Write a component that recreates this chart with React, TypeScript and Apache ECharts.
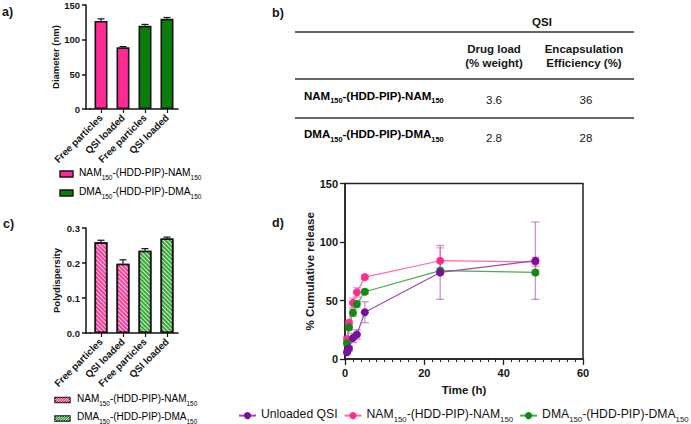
import React, { useEffect, useRef } from 'react';
import * as echarts from 'echarts';

// ---------- data ----------
const barCategories = ['Free particles', 'QSI loaded', 'Free particles', 'QSI loaded'];
const barPolymer = ['NAM', 'NAM', 'DMA', 'DMA'];
const diameterValues = [127, 89, 120, 130];
const diameterErrors = [3, 1, 2, 2];
const pdiValues = [0.259, 0.198, 0.235, 0.27];
const pdiErrors = [0.006, 0.011, 0.006, 0.004];

const diameterTicks = { min: 0, max: 150, interval: 50 };
const pdiTicks = { min: 0, max: 0.3, interval: 0.1 };

const tablePolymers = ['NAM', 'DMA'];
const tableDrugLoad = [3.6, 2.8];
const tableEncapsulation = [36, 28];

const releaseTimes = [0.5, 1, 2, 3, 5, 24, 48];
const unloadedRelease = [5.7, 9, 18, 21, 40, 74, 84];
const unloadedErr = [1.5, 2, 4, 4, 9, 23, 33];
const namRelease = [17, 31, 48, 57, 70, 84, 83];
const namErr = [2, 2, 4, 4, 2, 11, 4];
const dmaRelease = [13.5, 27, 39.5, 47, 57.5, 75.5, 74];
const dmaErr = [2, 2, 3, 3, 2, 2, 2];

const releaseSeriesNames = ['Unloaded QSI', 'NAM150-(HDD-PIP)-NAM150', 'DMA150-(HDD-PIP)-DMA150'];

// ---------- styles ----------
const FONT = '"Liberation Sans", Arial, Helvetica, sans-serif';
const INK = '#151515';
const PINK = '#FF2A92';
const GREEN = '#0A7E0A';
const PINK_H = '#FF3D9A';
const GREEN_H = '#3BAA3B';
const PURPLE = '#7A0F9C';
const PINK_D = '#FF2D8E';
const GREEN_D = '#138A13';

const polymerName = (p: string) => `${p}150-(HDD-PIP)-${p}150`;
const richName = (name: string) =>
  name
    .split('150')
    .map((part, i, arr) => (part ? `{n|${part}}` : '') + (i < arr.length - 1 ? '{s|150}' : ''))
    .join('');

const richStyles = (size: number, bold: boolean) => ({
  n: { fontSize: size, fontWeight: bold ? 'bold' : 'normal', fontFamily: FONT, color: INK, lineHeight: size + 3, verticalAlign: 'top' as const },
  s: { fontSize: Math.round(size * 0.64 * 10) / 10, fontWeight: bold ? 'bold' : 'normal', fontFamily: FONT, color: INK, lineHeight: 1, verticalAlign: 'bottom' as const },
});

const barErrorRender = (color: string) => (params: any, api: any) => {
  const x = api.value(0);
  const v = api.value(1);
  const e = api.value(2);
  const base = api.coord([x, v]);
  const top = api.coord([x, v + e]);
  return {
    type: 'group',
    children: [
      { type: 'line', shape: { x1: base[0], y1: base[1], x2: top[0], y2: top[1] }, style: { stroke: color, lineWidth: 1.2 } },
      { type: 'line', shape: { x1: top[0] - 3.5, y1: top[1], x2: top[0] + 3.5, y2: top[1] }, style: { stroke: color, lineWidth: 1.2 } },
    ],
  };
};

const fullErrorRender = (color: string) => (params: any, api: any) => {
  const x = api.value(0);
  const v = api.value(1);
  const e = api.value(2);
  const lo = api.coord([x, v - e]);
  const hi = api.coord([x, v + e]);
  return {
    type: 'group',
    children: [
      { type: 'line', shape: { x1: lo[0], y1: lo[1], x2: hi[0], y2: hi[1] }, style: { stroke: color, lineWidth: 1.3 } },
      { type: 'line', shape: { x1: hi[0] - 4, y1: hi[1], x2: hi[0] + 4, y2: hi[1] }, style: { stroke: color, lineWidth: 1.3 } },
      { type: 'line', shape: { x1: lo[0] - 4, y1: lo[1], x2: lo[0] + 4, y2: lo[1] }, style: { stroke: color, lineWidth: 1.3 } },
    ],
  };
};

const hatchDecal = {
  symbol: 'rect',
  symbolSize: 1,
  dashArrayX: [1, 0],
  dashArrayY: [1, 2],
  rotation: Math.PI / 4,
  color: 'rgba(255,255,255,0.75)',
};

function smallAxisY(name: string, ticks: { min: number; max: number; interval: number }, gridIndex: number, digits: number) {
  return {
    type: 'value',
    gridIndex,
    min: ticks.min,
    max: ticks.max,
    interval: ticks.interval,
    offset: 4,
    name,
    nameLocation: 'middle',
    nameGap: 25,
    nameTextStyle: { fontFamily: FONT, fontWeight: 'bold', fontSize: 9.5, color: INK },
    axisLine: { show: true, lineStyle: { color: INK, width: 1.5 } },
    axisTick: { show: true, length: 4, lineStyle: { color: INK, width: 1.5 } },
    axisLabel: { fontFamily: FONT, fontWeight: 'bold', fontSize: 9.5, color: INK, margin: 6, formatter: (v: number) => v.toFixed(digits) },
    splitLine: { show: false },
  };
}

function smallAxisX(gridIndex: number) {
  return {
    type: 'category',
    gridIndex,
    data: barCategories,
    axisLine: { show: true, lineStyle: { color: INK, width: 1.5 } },
    axisTick: { show: true, alignWithLabel: true, length: 4, lineStyle: { color: INK, width: 1.2 } },
    axisLabel: { rotate: 45, interval: 0, fontFamily: FONT, fontWeight: 'bold', fontSize: 9.8, color: INK, margin: 7 },
  };
}

function legendSwatch(x: number, y: number, w: number, h: number, color: string, hatched: boolean) {
  const children: any[] = [
    { type: 'rect', shape: { x, y, width: w, height: h }, style: { fill: color, stroke: INK, lineWidth: 1.4 } },
  ];
  if (hatched) {
    for (let i = -h; i < w; i += 2.5) {
      const x1 = Math.max(x + i, x);
      const y1 = y + h - (x1 - (x + i));
      const x2 = Math.min(x + i + h, x + w);
      const y2 = y + h - (x2 - (x + i));
      children.push({ type: 'line', shape: { x1, y1, x2, y2 }, style: { stroke: 'rgba(255,255,255,0.8)', lineWidth: 0.8 } });
    }
  }
  return { type: 'group', children };
}

function legendText(x: number, y: number, name: string, size: number, bold: boolean) {
  return {
    type: 'text',
    x,
    y,
    style: { text: richName(name), rich: richStyles(size, bold), verticalAlign: 'middle', align: 'left' },
  };
}

function plainText(x: number, y: number, text: string, size: number, bold: boolean, align = 'left') {
  return {
    type: 'text',
    x,
    y,
    style: { text, fontFamily: FONT, fontSize: size, fontWeight: bold ? 'bold' : 'normal', fill: INK, align, verticalAlign: 'middle' },
  };
}

function buildOption() {
  const graphics: any[] = [];
  // panel labels
  graphics.push(plainText(2, 12, 'a)', 12.5, true));
  graphics.push(plainText(3, 224, 'c)', 12.5, true));
  graphics.push(plainText(272, 13, 'b)', 12.5, true));
  graphics.push(plainText(272, 223, 'd)', 12.5, true));

  // x-axis extensions to y axes (a, c)
  graphics.push({ type: 'line', shape: { x1: 85.5, y1: 109, x2: 91, y2: 109 }, style: { stroke: INK, lineWidth: 1.5 } });
  graphics.push({ type: 'line', shape: { x1: 85.5, y1: 333, x2: 91, y2: 333 }, style: { stroke: INK, lineWidth: 1.5 } });

  // legends a
  graphics.push(legendSwatch(60, 171, 13, 6, PINK, false));
  graphics.push(legendText(79, 174, polymerName('NAM'), 10.2, false));
  graphics.push(legendSwatch(60, 190, 13, 6, GREEN, false));
  graphics.push(legendText(79, 193, polymerName('DMA'), 10.2, false));

  // legends c
  graphics.push(legendSwatch(55, 397.5, 15, 5, PINK_H, true));
  graphics.push(legendText(77, 399.5, polymerName('NAM'), 10, false));
  graphics.push(legendSwatch(55, 416, 15, 5, GREEN_H, true));
  graphics.push(legendText(77, 418, polymerName('DMA'), 10, false));

  // table b
  const tl = 295, tr = 634;
  graphics.push(plainText(542, 22, 'QSI', 11.5, true, 'center'));
  [32, 79, 118].forEach((y) =>
    graphics.push({ type: 'line', shape: { x1: tl, y1: y, x2: tr, y2: y }, style: { stroke: '#333', lineWidth: 1.3 } })
  );
  graphics.push(plainText(494, 49, 'Drug load', 11.5, true, 'center'));
  graphics.push(plainText(494, 63, '(% weight)', 11.5, true, 'center'));
  graphics.push(plainText(584, 49, 'Encapsulation', 11.5, true, 'center'));
  graphics.push(plainText(584, 63, 'Efficiency (%)', 11.5, true, 'center'));
  tablePolymers.forEach((p, i) => {
    const y = 97 + i * 38.5;
    graphics.push(legendText(304, y, polymerName(p), 11.5, true));
    graphics.push(plainText(494, y + 2.5, tableDrugLoad[i].toFixed(1), 11.5, false, 'center'));
    graphics.push(plainText(586, y + 2.5, String(tableEncapsulation[i]), 11.5, false, 'center'));
  });

  const diamData = diameterValues.map((v, i) => ({
    value: v,
    itemStyle: { color: barPolymer[i] === 'NAM' ? PINK : GREEN },
  }));
  const pdiData = pdiValues.map((v, i) => ({
    value: v,
    itemStyle: { color: barPolymer[i] === 'NAM' ? PINK_H : GREEN_H, decal: hatchDecal },
  }));

  const releaseSets = [
    { name: releaseSeriesNames[0], values: unloadedRelease, errs: unloadedErr, color: PURPLE, line: '#9C4AB5', err: 'rgba(150,70,170,0.55)' },
    { name: releaseSeriesNames[1], values: namRelease, errs: namErr, color: PINK_D, line: '#FF6AAE', err: 'rgba(255,60,150,0.5)' },
    { name: releaseSeriesNames[2], values: dmaRelease, errs: dmaErr, color: GREEN_D, line: '#4DAA4D', err: 'rgba(40,150,40,0.5)' },
  ];
  const drawOrder = [1, 2, 0];

  const series: any[] = [
    {
      type: 'bar',
      name: 'Diameter',
      xAxisIndex: 0,
      yAxisIndex: 0,
      barWidth: 13,
      data: diamData,
      itemStyle: { borderColor: INK, borderWidth: 1.6 },
      z: 2,
    },
    {
      type: 'custom',
      name: 'Diameter error',
      xAxisIndex: 0,
      yAxisIndex: 0,
      data: diameterValues.map((v, i) => [i, v, diameterErrors[i]]),
      renderItem: barErrorRender(INK),
      z: 3,
    },
    {
      type: 'bar',
      name: 'PDI',
      xAxisIndex: 1,
      yAxisIndex: 1,
      barWidth: 13,
      data: pdiData,
      itemStyle: { borderColor: INK, borderWidth: 1.6 },
      z: 2,
    },
    {
      type: 'custom',
      name: 'PDI error',
      xAxisIndex: 1,
      yAxisIndex: 1,
      data: pdiValues.map((v, i) => [i, v, pdiErrors[i]]),
      renderItem: barErrorRender(INK),
      z: 3,
    },
  ];
  drawOrder.forEach((k) => {
    const s = releaseSets[k];
    series.push({
      type: 'custom',
      name: s.name + ' error',
      xAxisIndex: 2,
      yAxisIndex: 2,
      data: releaseTimes.map((t, i) => [t, s.values[i], s.errs[i]]),
      renderItem: fullErrorRender(s.err),
      z: 2,
    });
  });
  drawOrder.forEach((k) => {
    const s = releaseSets[k];
    series.push({
      type: 'line',
      name: s.name,
      xAxisIndex: 2,
      yAxisIndex: 2,
      data: releaseTimes.map((t, i) => [t, s.values[i]]),
      symbol: 'circle',
      symbolSize: 8,
      showSymbol: true,
      itemStyle: { color: s.color },
      lineStyle: { color: s.line, width: 1.2 },
      z: 3,
    });
  });

  return {
    animation: false,
    backgroundColor: '#fff',
    textStyle: { fontFamily: FONT },
    grid: [
      { left: 90, top: 5, width: 88, height: 104 },
      { left: 90, top: 228, width: 88, height: 105 },
      { left: 345, top: 183.5, width: 238, height: 175.5, show: true, borderColor: '#222', borderWidth: 1.5 },
    ],
    xAxis: [
      smallAxisX(0),
      smallAxisX(1),
      {
        type: 'value',
        gridIndex: 2,
        min: 0,
        max: 60,
        interval: 20,
        name: 'Time (h)',
        nameLocation: 'middle',
        nameGap: 25,
        nameTextStyle: { fontFamily: FONT, fontWeight: 'bold', fontSize: 11.5, color: INK },
        axisLine: { show: true, lineStyle: { color: '#222', width: 1.5 } },
        axisTick: { show: true, length: 6, lineStyle: { color: '#222', width: 1.3 } },
        minorTick: { show: true, splitNumber: 10, length: 3, lineStyle: { color: '#222', width: 1 } },
        axisLabel: { fontFamily: FONT, fontWeight: 'bold', fontSize: 11, color: INK, margin: 8 },
        splitLine: { show: false },
      },
    ],
    yAxis: [
      smallAxisY('Diameter (nm)', diameterTicks, 0, 0),
      smallAxisY('Polydispersity', pdiTicks, 1, 1),
      {
        type: 'value',
        gridIndex: 2,
        min: 0,
        max: 150,
        interval: 50,
        name: '% Cumulative release',
        nameLocation: 'middle',
        nameGap: 29,
        nameTextStyle: { fontFamily: FONT, fontWeight: 'bold', fontSize: 11.5, color: INK },
        axisLine: { show: true, lineStyle: { color: '#222', width: 1.5 } },
        axisTick: { show: true, length: 5, lineStyle: { color: '#222', width: 1.3 } },
        axisLabel: { fontFamily: FONT, fontWeight: 'bold', fontSize: 11, color: INK, margin: 7 },
        splitLine: { show: false },
      },
    ],
    legend: {
      data: releaseSeriesNames,
      left: 238,
      top: 408,
      itemWidth: 17,
      itemHeight: 9,
      itemGap: 6,
      padding: 0,
      formatter: (name: string) => richName(name),
      textStyle: { fontFamily: FONT, fontSize: 12.2, color: INK, rich: richStyles(12.2, false) },
    },
    graphic: graphics,
    series,
  };
}

export default function App() {
  const ref = useRef<HTMLDivElement>(null);
  useEffect(() => {
    document.body.style.margin = '0';
    const chart = echarts.init(ref.current!, null, { renderer: 'svg' });
    chart.setOption(buildOption() as any);
    return () => chart.dispose();
  }, []);
  return <div ref={ref} style={{ width: 691, height: 424 }} />;
}
